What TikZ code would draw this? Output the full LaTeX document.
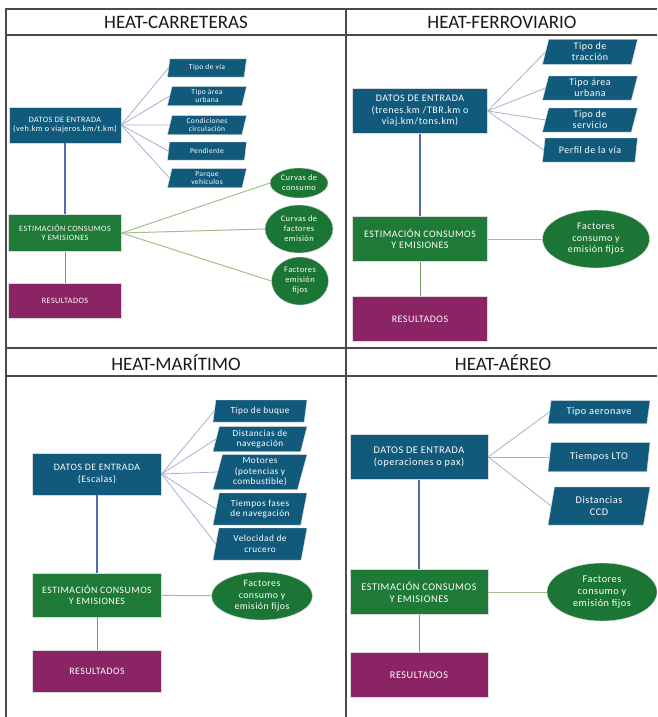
\documentclass[tikz,border=0pt]{standalone}
\usepackage{fontspec}
\setmainfont{Carlito}
\newfontfamily\boxfont[LetterSpace=5]{Carlito}
\usetikzlibrary{positioning,shapes.geometric}

\definecolor{datblue}{HTML}{125A7C}
\definecolor{estgreen}{HTML}{1F7A38}
\definecolor{resmag}{HTML}{8A2465}
\definecolor{ellgreen}{HTML}{1B7535}
\definecolor{lnblue}{HTML}{A3B1CF}
\definecolor{lndark}{HTML}{4D6DAA}
\definecolor{lngreen}{HTML}{A2BE8C}
\definecolor{lnres}{HTML}{6E9E5C}
\definecolor{frame}{HTML}{4A4A4A}

\tikzset{
	box/.style = {rectangle, draw=black!15, text=white, align=center, inner sep=1pt},
	datos/.style = {box, fill=datblue},
	estim/.style = {box, fill=estgreen},
	result/.style = {box, fill=resmag},
	param/.style = {trapezium, trapezium left angle=72, trapezium right angle=108,
		trapezium stretches body, fill=datblue, draw=black!15, text=white,
		align=center, inner sep=0.5pt},
	factor/.style = {ellipse, fill=ellgreen, draw=black!15, text=white, align=center, inner sep=0pt},
	heading/.style = {font=\fontsize{19}{19}\selectfont, text=black!90},
	toparam/.style = {draw=lnblue, line width=0.8pt},
	toestim/.style = {draw=lndark, line width=1.2pt},
	tofactor/.style = {draw=lngreen, line width=1pt},
	tores/.style = {draw=lnres, line width=0.7pt},
	grid/.style = {draw=frame, line width=1.3pt}
}

\begin{document}
\begin{tikzpicture}[x=1pt, y=-1pt]
	\useasboundingbox (0,0) rectangle (657,717);

	\draw[grid] (6,717) -- (6,9) -- (657,9);
	\draw[grid] (6,35) -- (657,35);
	\draw[grid] (346,9) -- (346,717);
	\draw[grid] (6,348) -- (657,348);
	\draw[grid] (6,376) -- (657,376);

	\node[heading] (T1) at (176,22) {HEAT-CARRETERAS};
	\node[heading] (T2) at (502,22) {HEAT-FERROVIARIO};
	\node[heading] (T3) at (176,363) {HEAT-MARÍTIMO};
	\node[heading] (T4) at (503,363) {HEAT-AÉREO};

	\begin{scope}[font=\boxfont\fontsize{8.2}{9.2}\selectfont]
		\node[datos, minimum width=112pt, minimum height=36pt] (D1) at (65,125) {DATOS DE ENTRADA\\(veh.km o viajeros.km/t.km)};
		\node[estim, minimum width=113pt, minimum height=37pt] (E1) at (65,233) {ESTIMACIÓN CONSUMOS\\Y EMISIONES};
		\node[result, minimum width=113pt, minimum height=35pt] (R1) at (65,301) {RESULTADOS};
		\begin{scope}[font=\boxfont\fontsize{7.5}{7.9}\selectfont]
			\node[param, minimum width=79pt, minimum height=18pt] (P1a) at (207,68) {Tipo de vía};
			\node[param, minimum width=79pt, minimum height=19pt] (P1b) at (207,96) {Tipo área\\urbana};
			\node[param, minimum width=79pt, minimum height=19pt] (P1c) at (207,125) {Condiciones\\circulación};
			\node[param, minimum width=79pt, minimum height=18pt] (P1d) at (207,151) {Pendiente};
			\node[param, minimum width=79pt, minimum height=19pt] (P1e) at (207,178) {Parque\\vehículos};
		\end{scope}
		\begin{scope}[font=\boxfont\fontsize{8.4}{10}\selectfont]
			\node[factor, minimum width=58pt, minimum height=30pt] (F1a) at (299,183) {Curvas de\\consumo};
			\node[factor, minimum width=68pt, minimum height=48pt] (F1b) at (299,229) {Curvas de\\factores\\emisión};
			\node[factor, minimum width=57pt, minimum height=48pt] (F1c) at (300,281) {Factores\\emisión\\fijos};
		\end{scope}
	\end{scope}

	\path (D1.east) edge[toparam] (P1a.west);
	\path (D1.east) edge[toparam] (P1b.west);
	\path (D1.east) edge[toparam] (P1c.west);
	\path (D1.east) edge[toparam] (P1d.west);
	\path (D1.east) edge[toparam] (P1e.west);
	\path (D1) edge[toestim] (E1);
	\path (E1.east) edge[tofactor] (F1a.west);
	\path (E1.east) edge[tofactor] (F1b.west);
	\path (E1.east) edge[tofactor] (F1c.west);
	\path (E1) edge[tores] (R1);

	\begin{scope}[font=\boxfont\fontsize{10}{11.5}\selectfont]
		\node[datos, minimum width=135pt, minimum height=45pt] (D2) at (420,111) {DATOS DE ENTRADA\\(trenes.km /TBR.km o\\viaj.km/tons.km)};
		\node[estim, minimum width=135pt, minimum height=45pt] (E2) at (420,239) {ESTIMACIÓN CONSUMOS\\Y EMISIONES};
		\node[result, minimum width=135pt, minimum height=45pt] (R2) at (420,319) {RESULTADOS};
		\node[factor, minimum width=107pt, minimum height=58pt] (F2) at (596,239) {Factores\\consumo y\\emisión fijos};
		\begin{scope}[font=\boxfont\fontsize{10}{11}\selectfont]
			\node[param, minimum width=95pt, minimum height=25pt] (P2a) at (590,52) {Tipo de\\tracción};
			\node[param, minimum width=95pt, minimum height=24pt] (P2b) at (590,88) {Tipo área\\urbana};
			\node[param, minimum width=95pt, minimum height=24pt] (P2c) at (590,120) {Tipo de\\servicio};
			\node[param, minimum width=95pt, minimum height=24pt] (P2d) at (590,150) {Perfil de la vía};
		\end{scope}
	\end{scope}

	\path (D2.east) edge[toparam] (P2a.west);
	\path (D2.east) edge[toparam] (P2b.west);
	\path (D2.east) edge[toparam] (P2c.west);
	\path (D2.east) edge[toparam] (P2d.west);
	\path (D2) edge[toestim] (E2);
	\path (E2) edge[tofactor] (F2);
	\path (E2) edge[tores] (R2);

	\begin{scope}[font=\boxfont\fontsize{9.8}{11.5}\selectfont]
		\node[datos, minimum width=129pt, minimum height=42pt] (D3) at (97,474) {DATOS DE ENTRADA\\(Escalas)};
		\node[estim, minimum width=129pt, minimum height=44pt] (E3) at (97,595) {ESTIMACIÓN CONSUMOS\\Y EMISIONES};
		\node[result, minimum width=129pt, minimum height=42pt] (R3) at (97,671) {RESULTADOS};
		\node[factor, minimum width=101pt, minimum height=48pt] (F3) at (262,596) {Factores\\consumo y\\emisión fijos};
		\begin{scope}[font=\boxfont\fontsize{9.3}{10.5}\selectfont]
			\node[param, minimum width=94pt, minimum height=22pt] (P3a) at (260,411) {Tipo de buque};
			\node[param, minimum width=94pt, minimum height=25pt] (P3b) at (260,439) {Distancias de\\navegación};
			\node[param, minimum width=94pt, minimum height=35pt] (P3c) at (260,472) {Motores\\(potencias y\\combustible)};
			\node[param, minimum width=94pt, minimum height=32pt] (P3d) at (260,509) {Tiempos fases\\de navegación};
			\node[param, minimum width=94pt, minimum height=32pt] (P3e) at (260,544) {Velocidad de\\crucero};
		\end{scope}
	\end{scope}

	\path (D3.east) edge[toparam] (P3a.west);
	\path (D3.east) edge[toparam] (P3b.west);
	\path (D3.east) edge[toparam] (P3c.west);
	\path (D3.east) edge[toparam] (P3d.west);
	\path (D3.east) edge[toparam] (P3e.west);
	\path (D3) edge[toestim] (E3);
	\path (E3) edge[tofactor] (F3);
	\path (E3) edge[tores] (R3);

	\begin{scope}[font=\boxfont\fontsize{10.3}{12}\selectfont]
		\node[datos, minimum width=138pt, minimum height=45pt] (D4) at (419,457) {DATOS DE ENTRADA\\(operaciones o pax)};
		\node[estim, minimum width=138pt, minimum height=45pt] (E4) at (419,592) {ESTIMACIÓN CONSUMOS\\Y EMISIONES};
		\node[result, minimum width=138pt, minimum height=45pt] (R4) at (419,675) {RESULTADOS};
		\node[factor, minimum width=110pt, minimum height=58pt] (F4) at (602,592) {Factores\\consumo y\\emisión fijos};
		\node[param, minimum width=102pt, minimum height=23pt] (P4a) at (599,412) {Tipo aeronave};
		\node[param, minimum width=102pt, minimum height=29pt] (P4b) at (599,457) {Tiempos LTO};
		\node[param, minimum width=102pt, minimum height=38pt] (P4c) at (599,506) {Distancias\\CCD};
	\end{scope}

	\path (D4.east) edge[toparam] (P4a.west);
	\path (D4.east) edge[toparam] (P4b.west);
	\path (D4.east) edge[toparam] (P4c.west);
	\path (D4) edge[toestim] (E4);
	\path (E4) edge[tofactor] (F4);
	\path (E4) edge[tores] (R4);

\end{tikzpicture}
\end{document}
